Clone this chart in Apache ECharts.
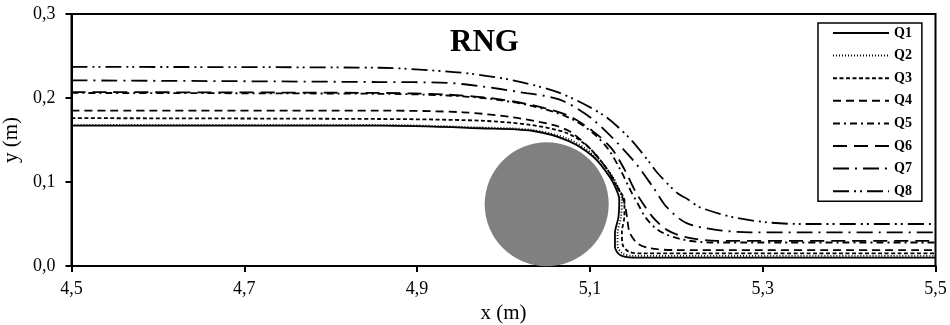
<!DOCTYPE html>
<html>
<head>
<meta charset="utf-8">
<script src="https://cdn.jsdelivr.net/npm/echarts@6/dist/echarts.min.js"></script>
<style>
  html, body { margin: 0; padding: 0; background: #fff; }
  #chart { width: 950px; height: 325px; }
</style>
</head>
<body>
<div id="chart"></div>
<script>
// streamlines, [x (m), y (m)]
var names = ['Q1', 'Q2', 'Q3', 'Q4', 'Q5', 'Q6', 'Q7', 'Q8'];

var q1 = [[4.5,0.167],[4.857,0.167],[4.973,0.164],[5.033,0.161],[5.075,0.149],[5.104,0.130],[5.123,0.106],[5.131,0.090],[5.134,0.079],[5.133,0.058],[5.129,0.039],[5.129,0.023],[5.135,0.013],[5.15,0.010],[5.5,0.010]];
var q2 = [[4.5,0.168],[4.857,0.168],[4.973,0.165],[5.033,0.162],[5.076,0.151],[5.106,0.131],[5.126,0.107],[5.134,0.090],[5.137,0.079],[5.136,0.058],[5.132,0.039],[5.132,0.024],[5.138,0.015],[5.15,0.012],[5.5,0.012]];
var q3 = [[4.5,0.176],[4.857,0.175],[4.973,0.173],[5.031,0.168],[5.074,0.158],[5.1,0.140],[5.12,0.115],[5.132,0.093],[5.14,0.078],[5.14,0.060],[5.137,0.040],[5.138,0.025],[5.145,0.017],[5.16,0.015],[5.5,0.015]];
var q4 = [[4.5,0.185],[4.857,0.185],[4.953,0.183],[5.011,0.177],[5.057,0.168],[5.077,0.160],[5.1,0.140],[5.12,0.115],[5.133,0.092],[5.14,0.075],[5.143,0.058],[5.146,0.040],[5.155,0.027],[5.17,0.021],[5.2,0.019],[5.5,0.019]];
var q5 = [[4.5,0.206],[4.857,0.205],[4.935,0.203],[4.984,0.199],[5.031,0.191],[5.075,0.177],[5.104,0.158],[5.122,0.138],[5.136,0.113],[5.147,0.090],[5.155,0.075],[5.165,0.057],[5.18,0.042],[5.205,0.032],[5.24,0.028],[5.5,0.028]];
var q6 = [[4.5,0.207],[4.857,0.206],[4.935,0.204],[4.984,0.200],[5.031,0.192],[5.075,0.179],[5.104,0.160],[5.125,0.140],[5.14,0.115],[5.152,0.090],[5.161,0.075],[5.173,0.058],[5.189,0.043],[5.212,0.034],[5.247,0.030],[5.5,0.030]];
var q7 = [[4.5,0.221],[4.857,0.219],[4.935,0.218],[4.973,0.214],[5.019,0.207],[5.065,0.198],[5.104,0.174],[5.15,0.126],[5.173,0.094],[5.189,0.070],[5.212,0.051],[5.247,0.043],[5.285,0.040],[5.35,0.040],[5.5,0.040]];
var q8 = [[4.5,0.237],[4.857,0.236],[4.915,0.233],[4.961,0.229],[5.011,0.221],[5.065,0.206],[5.115,0.180],[5.146,0.152],[5.167,0.126],[5.178,0.111],[5.201,0.087],[5.214,0.079],[5.227,0.070],[5.266,0.058],[5.305,0.052],[5.343,0.050],[5.5,0.050]];

// cylinder centre
var cylinder = [[5.05, 0.0735]];

var xTicks = ['4,5', '4,7', '4,9', '5,1', '5,3', '5,5'];
var yTicks = ['0,0', '0,1', '0,2', '0,3'];

var lines = [q1, q2, q3, q4, q5, q6, q7, q8];
var dashes = [
    'solid',
    [1, 2],
    [4, 2.5],
    [8, 5],
    [7, 4, 2, 4],
    [14, 7],
    [16, 6, 2, 6],
    [16, 5, 2, 4, 2, 5]
];

var font = 'Liberation Serif';
var myChart = echarts.init(document.getElementById('chart'));

var series = [{
    name: 'cyl',
    type: 'scatter',
    data: cylinder,
    symbol: 'circle',
    symbolSize: 124,
    itemStyle: { color: '#808080', opacity: 1 },
    silent: true,
    z: 1
}];
lines.forEach(function (d, i) {
    series.push({
        name: names[i],
        type: 'line',
        data: d,
        symbol: 'none',
        smooth: 0.3,
        itemStyle: { color: '#000' },
        lineStyle: { color: '#000', width: 1.8, type: dashes[i] },
        z: 3
    });
});

var option = {
    animation: false,
    title: {
        text: 'RNG',
        left: 445,
        top: 22,
        textStyle: { fontFamily: font, fontSize: 31, fontWeight: 'bold', color: '#000' }
    },
    legend: {
        data: names,
        orient: 'vertical',
        left: 818,
        top: 23,
        align: 'left',
        itemWidth: 56,
        itemHeight: 14,
        itemGap: 8.6,
        padding: [3, 10, 3, 14],
        borderColor: '#000',
        borderWidth: 1.5,
        itemStyle: { opacity: 0 },
        textStyle: { fontFamily: font, fontSize: 14, fontWeight: 'bold', color: '#000' }
    },
    grid: {
        left: 71.5,
        right: 14.5,
        top: 14,
        bottom: 59,
        outerBoundsMode: 'none',
        show: true,
        borderColor: '#000',
        borderWidth: 2
    },
    xAxis: {
        type: 'value',
        min: 4.5,
        max: 5.5,
        interval: 0.2,
        name: 'x (m)',
        nameLocation: 'middle',
        nameGap: 36,
        nameTextStyle: { fontFamily: font, fontSize: 21, color: '#000' },
        axisLine: { show: true, lineStyle: { color: '#000', width: 2 } },
        axisTick: { show: true, length: 6, lineStyle: { color: '#000', width: 2 } },
        axisLabel: {
            fontFamily: font, fontSize: 18, color: '#000', margin: 14,
            formatter: function (v) { return xTicks[Math.round((v - 4.5) / 0.2)]; }
        },
        splitLine: { show: false }
    },
    yAxis: {
        type: 'value',
        min: 0,
        max: 0.3,
        interval: 0.1,
        name: 'y (m)',
        nameLocation: 'middle',
        nameGap: 44,
        nameTextStyle: { fontFamily: font, fontSize: 21, color: '#000' },
        axisLine: { show: true, lineStyle: { color: '#000', width: 2 } },
        axisTick: { show: true, length: 6, lineStyle: { color: '#000', width: 2 } },
        axisLabel: {
            fontFamily: font, fontSize: 18, color: '#000', margin: 16,
            formatter: function (v) { return yTicks[Math.round(v / 0.1)]; }
        },
        splitLine: { show: false }
    },
    series: series
};

myChart.setOption(option);
</script>
</body>
</html>
